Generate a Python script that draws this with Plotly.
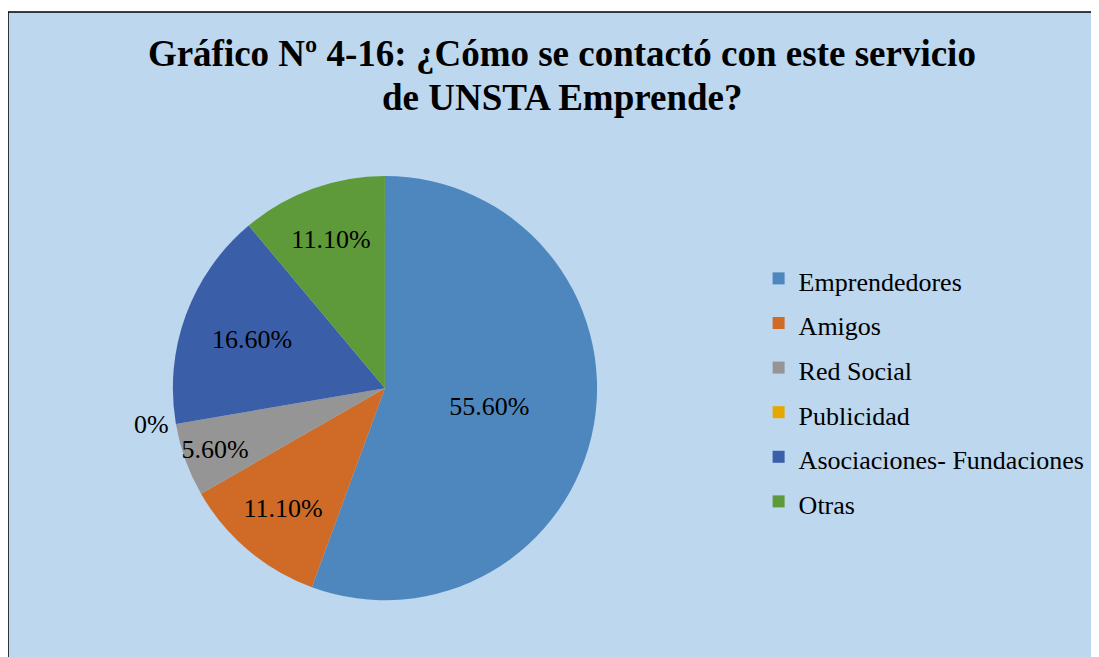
import plotly.graph_objects as go

categories = ["Emprendedores", "Amigos", "Red Social", "Publicidad",
              "Asociaciones- Fundaciones", "Otras"]
values = [55.6, 11.1, 5.6, 0.0, 16.6, 11.1]
value_labels = ["55.60%", "11.10%", "5.60%", "0%", "16.60%", "11.10%"]
text_positions = ["inside", "inside", "inside", "outside", "inside", "inside"]
colors = ["#4E87BE", "#D06B27", "#959595", "#E5A800", "#3A5FA8", "#5E9A3A"]

title_line1 = "Gráfico Nº 4-16: ¿Cómo se contactó con este servicio"
title_line2 = "de UNSTA Emprende?"

BG = "#BDD7EE"
FONT = "Liberation Serif, Times New Roman, serif"

legend_labels = [f"<span style='font-size:26px'>{c}</span>" for c in categories]

fig = go.Figure(go.Pie(
    labels=legend_labels,
    values=values,
    text=value_labels,
    textinfo="text",
    textposition=text_positions,
    insidetextorientation="horizontal",
    textfont=dict(family=FONT, size=26, color="black"),
    outsidetextfont=dict(family=FONT, size=26, color="black"),
    marker=dict(colors=colors, line=dict(width=0)),
    sort=False,
    direction="clockwise",
    rotation=0,
    hoverinfo="text+percent",
    domain=dict(x=[0.150, 0.536], y=[0.099, 0.749]),
    showlegend=True,
))

fig.update_layout(
    width=1099, height=657,
    margin=dict(l=0, t=4, r=0, b=0),
    paper_bgcolor="white",
    uniformtext=dict(minsize=26, mode="show"),
    title=dict(
        text=title_line1,
        font=dict(family=FONT, size=37, color="black", weight="bold"),
        x=0.504, xref="container", xanchor="center",
        y=0.951, yref="container", yanchor="top",
    ),
    annotations=[dict(
        text=title_line2, showarrow=False,
        xref="paper", yref="paper", x=0.504, y=0.869,
        xanchor="center", yanchor="middle",
        font=dict(family=FONT, size=37, color="black", weight="bold"),
    )],
    legend=dict(
        x=0.683, y=0.421, xanchor="left", yanchor="middle",
        font=dict(family=FONT, size=32, color="black"),
        bgcolor="rgba(0,0,0,0)",
    ),
    shapes=[dict(
        type="rect", xref="paper", yref="paper",
        x0=0, x1=1.05, y0=-0.05, y1=1,
        fillcolor=BG, line=dict(color="black", width=1.5), layer="below",
    )],
)

fig.write_html("out.html")
